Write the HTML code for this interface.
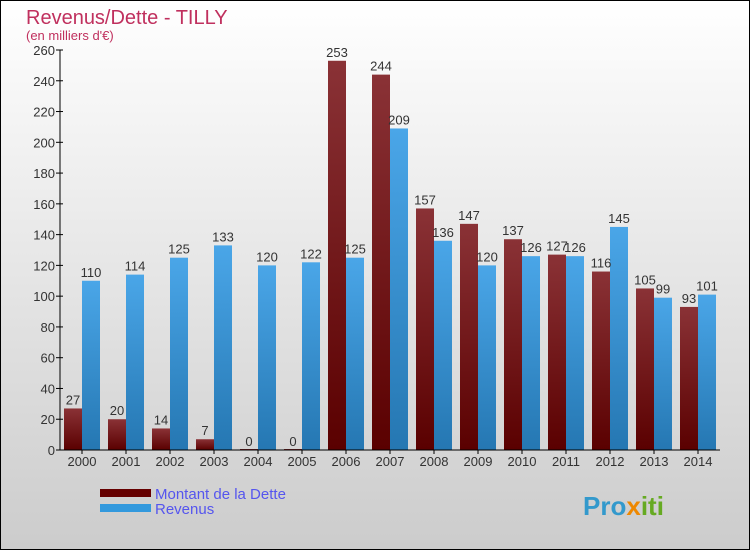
<!DOCTYPE html>
<html><head><meta charset="utf-8"><style>
html,body{margin:0;padding:0}
body{width:750px;height:550px;overflow:hidden;font-family:"Liberation Sans",sans-serif}
</style></head><body>
<svg id="chart" width="750" height="550" xmlns="http://www.w3.org/2000/svg" style="display:block">
<defs>
<linearGradient id="bg" x1="0" y1="0" x2="0" y2="1"><stop offset="0" stop-color="#ffffff"/><stop offset="1" stop-color="#cccccc"/></linearGradient>
<linearGradient id="gd" x1="0" y1="0" x2="0" y2="1"><stop offset="0" stop-color="#8a3236"/><stop offset="1" stop-color="#5a0000"/></linearGradient>
<linearGradient id="gr" x1="0" y1="0" x2="0" y2="1"><stop offset="0" stop-color="#4aa6e8"/><stop offset="1" stop-color="#2577b2"/></linearGradient>
</defs>
<rect x="0.5" y="0.5" width="749" height="549" fill="url(#bg)" stroke="#000"/>
<text x="26" y="24" font-size="20" fill="#c0305e">Revenus/Dette - TILLY</text>
<text x="26" y="40" font-size="13" fill="#c0305e">(en milliers d'€)</text>
<g id="plot"></g>
<rect x="100" y="489" width="51" height="8" fill="#660000"/>
<rect x="100" y="504" width="51" height="8" fill="#3399dd"/>
<text x="155" y="499" font-size="15" fill="#5555ee">Montant de la Dette</text>
<text x="155" y="514" font-size="15" fill="#5555ee">Revenus</text>
<text x="583" y="515" font-size="26" font-weight="bold" fill="#3399cc">Pro<tspan fill="#ee8800">x</tspan><tspan fill="#66aa22">iti</tspan></text>
</svg>
<script>
const categories=["2000","2001","2002","2003","2004","2005","2006","2007","2008","2009","2010","2011","2012","2013","2014"];
const dette=[27,20,14,7,0,0,253,244,157,147,137,127,116,105,93];
const revenus=[110,114,125,133,120,122,125,209,136,120,126,126,145,99,101];
const yTicks=[0,20,40,60,80,100,120,140,160,180,200,220,240,260];
const NS="http://www.w3.org/2000/svg";
const g=document.getElementById('plot');
const y0=450,yMax=260,ph=400,left=60,step=44;
const y=v=>y0-v/yMax*ph;
const xc=i=>82+i*step;
function mk(t,a){const e=document.createElementNS(NS,t);for(const k in a)e.setAttribute(k,a[k]);g.appendChild(e);return e;}
yTicks.forEach(v=>{
 const l=mk('line',{x1:left-4,x2:left+3,y1:y(v),y2:y(v),stroke:'#000'});
 
 
 const t=mk('text',{x:left-5,y:y(v)+5,'text-anchor':'end','font-size':13,fill:'#333'});
 t.textContent=v;
 
 
});
categories.forEach((c,i)=>{
 const x=xc(i);
 const hd=Math.max(y0-y(dette[i]),1);
 const b1=mk('rect',{x:x-18,y:y0-hd,width:18,height:hd,fill:'url(#gd)'});
 
 
 const b2=mk('rect',{x:x,y:y(revenus[i]),width:18,height:y0-y(revenus[i]),fill:'url(#gr)'});
 
 
 const t1=mk('text',{x:x-9,y:y(dette[i])-4,'text-anchor':'middle','font-size':13,fill:'#333'});
 t1.textContent=dette[i];
 
 
 const t2=mk('text',{x:x+9,y:y(revenus[i])-4,'text-anchor':'middle','font-size':13,fill:'#333'});
 t2.textContent=revenus[i];
 
 
 const tk=mk('line',{x1:x,x2:x,y1:y0,y2:y0+4,stroke:'#000'});
 
 
 const xl=mk('text',{x:x,y:466,'text-anchor':'middle','font-size':13,fill:'#333'});
 xl.textContent=c;
 
 
});
const ya=mk('line',{x1:left,x2:left,y1:y(yMax),y2:y0,stroke:'#000'});


const xa=mk('line',{x1:left,x2:left+15*step,y1:y0,y2:y0,stroke:'#000'});


</script>
</body></html>
